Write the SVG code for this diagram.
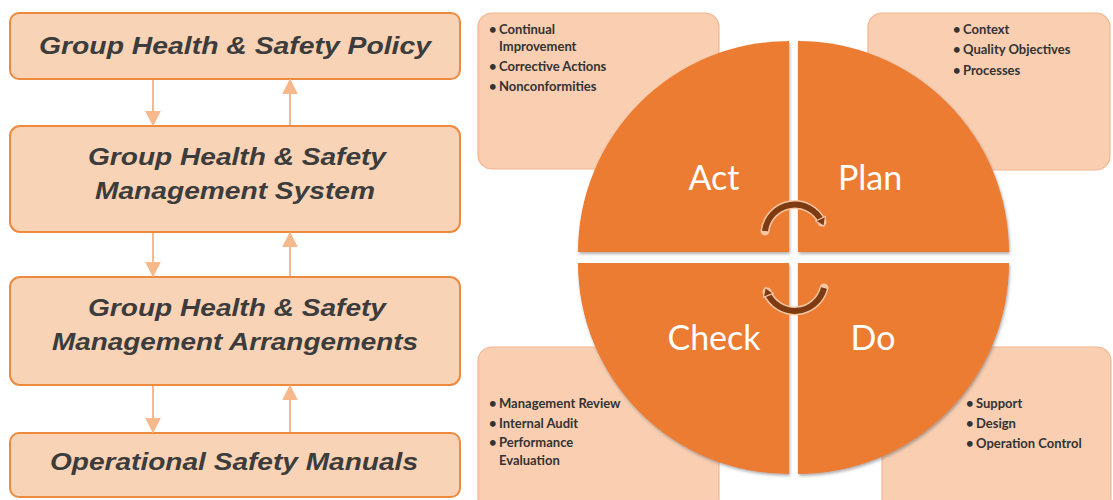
<svg xmlns="http://www.w3.org/2000/svg" width="1113" height="500" viewBox="0 0 1113 500">
  <style>
    .tier rect { fill: #F9D3B5; stroke: #EE8A3E; stroke-width: 2; }
    .tier text { font-family: "Liberation Sans", Arial, sans-serif; font-weight: bold; font-style: italic; font-size: 24px; fill: #3C3C3C; text-anchor: middle; }
    .flow { stroke: #F7B98C; stroke-width: 2; fill: none; }
    .note rect { fill: #F9CEB1; stroke: #F3B58E; stroke-width: 1.2; }
    .note text { font-family: Lato, "Liberation Sans", sans-serif; font-weight: bold; font-size: 13px; fill: #333333; }
    .quad path { fill: #EC7C30; filter: url(#shade); }
    .quad text { font-family: Lato, "Open Sans", sans-serif; font-size: 34px; fill: #FFFFFF; text-anchor: middle; }
    .cycle-under { stroke: #F6C7A5; stroke-width: 9; fill: none; stroke-linecap: round; }
    .cycle { stroke: #7E3A10; stroke-width: 6; fill: none; }
  </style>
  <defs>
    <marker id="head" viewBox="0 0 10 10" refX="9" refY="5" markerWidth="16" markerHeight="16" markerUnits="userSpaceOnUse" orient="auto">
      <path d="M0,0 L10,5 L0,10 Z" fill="#F7B98C"/>
    </marker>
    <marker id="turn" viewBox="0 0 10 10" refX="5" refY="5" markerWidth="12" markerHeight="12" markerUnits="userSpaceOnUse" orient="auto">
      <path d="M2,0.5 L9,5 L2,9.5 Z" fill="#7E3A10" stroke="#F6C7A5" stroke-width="1"/>
    </marker>
    <filter id="shade" x="-10%" y="-10%" width="120%" height="120%">
      <feDropShadow dx="1" dy="2" stdDeviation="1.5" flood-color="#6E6E6E" flood-opacity="0.55"/>
    </filter>
  </defs>

  <!-- policy hierarchy -->
  <g id="policy" class="tier">
    <rect x="10" y="13" width="450" height="66" rx="9"/>
    <text x="235" y="54" textLength="392" lengthAdjust="spacingAndGlyphs">Group Health &amp; Safety Policy</text>
  </g>
  <g id="system" class="tier">
    <rect x="10" y="126" width="450" height="106" rx="10"/>
    <text x="237" y="165" textLength="298" lengthAdjust="spacingAndGlyphs">Group Health &amp; Safety</text>
    <text x="235" y="199" textLength="280" lengthAdjust="spacingAndGlyphs">Management System</text>
  </g>
  <g id="arrangements" class="tier">
    <rect x="10" y="277" width="450" height="108" rx="10"/>
    <text x="237" y="316" textLength="298" lengthAdjust="spacingAndGlyphs">Group Health &amp; Safety</text>
    <text x="235" y="350" textLength="366" lengthAdjust="spacingAndGlyphs">Management Arrangements</text>
  </g>
  <g id="manuals" class="tier">
    <rect x="10" y="433" width="450" height="64" rx="9"/>
    <text x="234" y="470" textLength="368" lengthAdjust="spacingAndGlyphs">Operational Safety Manuals</text>
  </g>

  <g id="connectors">
    <line class="flow" x1="153" y1="80" x2="153" y2="125" marker-end="url(#head)"/>
    <line class="flow" x1="290" y1="125" x2="290" y2="80" marker-end="url(#head)"/>
    <line class="flow" x1="153" y1="233" x2="153" y2="276" marker-end="url(#head)"/>
    <line class="flow" x1="290" y1="276" x2="290" y2="233" marker-end="url(#head)"/>
    <line class="flow" x1="153" y1="386" x2="153" y2="432" marker-end="url(#head)"/>
    <line class="flow" x1="290" y1="432" x2="290" y2="386" marker-end="url(#head)"/>
  </g>

  <!-- PDCA detail cards -->
  <g id="act-notes" class="note">
    <rect x="478" y="13" width="241" height="156" rx="14"/>
    <text x="489" y="34">•</text><text x="499" y="34">Continual</text>
    <text x="499" y="51">Improvement</text>
    <text x="489" y="71">•</text><text x="499" y="71">Corrective Actions</text>
    <text x="489" y="91">•</text><text x="499" y="91">Nonconformities</text>
  </g>
  <g id="plan-notes" class="note">
    <rect x="868" y="13" width="242" height="157" rx="14"/>
    <text x="953" y="34">•</text><text x="963" y="34">Context</text>
    <text x="953" y="54">•</text><text x="963" y="54">Quality Objectives</text>
    <text x="953" y="75">•</text><text x="963" y="75">Processes</text>
  </g>
  <g id="check-notes" class="note">
    <rect x="478" y="347" width="241" height="165" rx="14"/>
    <text x="489" y="408">•</text><text x="499" y="408">Management Review</text>
    <text x="489" y="428">•</text><text x="499" y="428">Internal Audit</text>
    <text x="489" y="447">•</text><text x="499" y="447">Performance</text>
    <text x="499" y="465">Evaluation</text>
  </g>
  <g id="do-notes" class="note">
    <rect x="882" y="347" width="229" height="165" rx="14"/>
    <text x="966" y="408">•</text><text x="976" y="408">Support</text>
    <text x="966" y="428">•</text><text x="976" y="428">Design</text>
    <text x="966" y="448">•</text><text x="976" y="448">Operation Control</text>
  </g>

  <!-- PDCA wheel quadrants -->
  <g id="act" class="quad">
    <path d="M789,252 L578,252 A211,211 0 0 1 789,41 Z"/>
    <text x="714" y="190">Act</text>
  </g>
  <g id="plan" class="quad">
    <path d="M798,252 L798,41 A211,211 0 0 1 1009,252 Z"/>
    <text x="870" y="190">Plan</text>
  </g>
  <g id="check" class="quad">
    <path d="M789,263 L789,474 A211,211 0 0 1 578,263 Z"/>
    <text x="714" y="350">Check</text>
  </g>
  <g id="do" class="quad">
    <path d="M798,263 L1009,263 A211,211 0 0 1 798,474 Z"/>
    <text x="873" y="350">Do</text>
  </g>

  <!-- cycle direction arrows -->
  <g id="cycle-arrows">
    <path class="cycle-under" d="M765,231 A30,30 0 0 1 822,222"/>
    <path class="cycle" d="M765,231 A30,30 0 0 1 822,222" marker-end="url(#turn)"/>
    <path class="cycle-under" d="M824,288 A30,30 0 0 1 767,292"/>
    <path class="cycle" d="M824,288 A30,30 0 0 1 767,292" marker-end="url(#turn)"/>
  </g>
</svg>
